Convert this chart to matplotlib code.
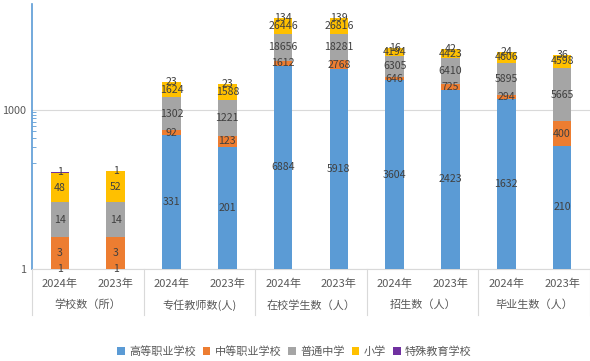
import matplotlib.pyplot as plt
import matplotlib.ticker as mticker
import numpy as np

plt.rcParams['font.family'] = ['Noto Sans CJK SC', 'DejaVu Sans']

groups = ['学校数（所）', '专任教师数(人)', '在校学生数（人）', '招生数（人）', '毕业生数（人）']
years = ['2024年', '2023年']
series = ['高等职业学校', '中等职业学校', '普通中学', '小学', '特殊教育学校']
colors = ['#5B9BD5', '#ED7D31', '#A5A5A5', '#FFC000', '#7030A0']

gaozhi = [1, 1, 331, 201, 6884, 5918, 3604, 2423, 1632, 210]
zhongzhi = [3, 3, 92, 123, 1612, 2768, 646, 725, 294, 400]
putong = [14, 14, 1302, 1221, 18656, 18281, 6305, 6410, 5895, 5665]
xiaoxue = [48, 52, 1624, 1588, 26446, 26816, 4194, 4423, 4606, 4598]
teshu = [1, 1, 23, 23, 134, 139, 16, 42, 24, 36]

values = [gaozhi, zhongzhi, putong, xiaoxue, teshu]

fig = plt.figure(figsize=(5.9, 3.61), dpi=100)
ax = fig.add_axes([32 / 590, 1 - 269 / 361, 1 - 32 / 590, 265 / 361])

x = np.arange(10)
cum = np.zeros(10)
for name, vals, col in zip(series, values, colors):
    vals = np.array(vals, dtype=float)
    bottom = np.maximum(cum, 1)
    top = cum + vals
    ax.bar(x, top - bottom, bottom=bottom, width=0.33, color=col, label=name, zorder=3)
    for xi, b, t, v in zip(x, bottom, top, vals):
        ax.text(xi, np.sqrt(b * t), f'{int(v)}', ha='center', va='center',
                fontsize=7.6, color='#404040', zorder=4)
    cum = top

ax.set_yscale('log')
ax.set_ylim(1, 1e5)
ax.set_xlim(-0.5, 9.5)
ax.yaxis.set_major_locator(mticker.FixedLocator([1, 1000]))
ax.yaxis.set_major_formatter(mticker.FixedFormatter(['1', '1000']))
ax.yaxis.set_minor_locator(mticker.FixedLocator(list(range(100, 1000, 100))))
ax.yaxis.set_minor_formatter(mticker.NullFormatter())
ax.tick_params(axis='y', which='major', length=0, labelsize=7.8, labelcolor='#595959', pad=4)
ax.tick_params(axis='y', which='minor', direction='in', length=3, color='#5B9BD5')
ax.set_xticks([])
ax.grid(axis='y', which='major', color='#D9D9D9', linewidth=0.8, zorder=0)

for s in ['top', 'right']:
    ax.spines[s].set_visible(False)
ax.spines['left'].set_color('#5B9BD5')
ax.spines['left'].set_linewidth(1.2)
ax.spines['bottom'].set_color('#D9D9D9')

# multi-level category axis
trans = ax.get_xaxis_transform()
for i in range(10):
    ax.text(i, -15 / 265, years[i % 2], transform=trans, ha='center', va='center',
            fontsize=8, color='#595959')
for g, name in enumerate(groups):
    ax.text(2 * g + 0.5, -36 / 265, name, transform=trans, ha='center', va='center',
            fontsize=8, color='#595959')
for g in range(6):
    ax.plot([2 * g - 0.5, 2 * g - 0.5], [0, -46 / 265], transform=trans,
            color='#D9D9D9', linewidth=0.8, clip_on=False)

fig.legend(loc='center', bbox_to_anchor=(0.499, 1 - 351.5 / 361), ncol=5, frameon=False,
           fontsize=8, handlelength=0.7, handleheight=0.7, handletextpad=0.4,
           columnspacing=0.6, labelcolor='#595959')

fig.savefig('out.png', dpi=100)
